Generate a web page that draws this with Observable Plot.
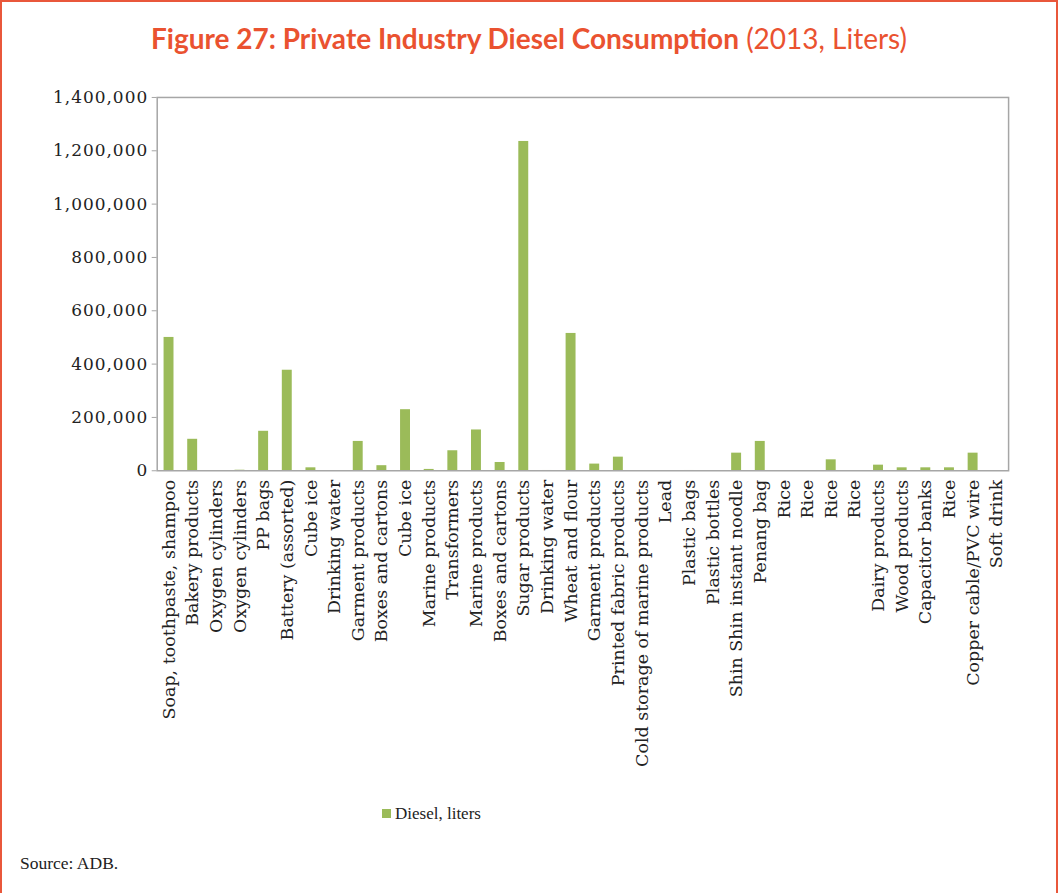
<!DOCTYPE html>
<html>
<head>
<meta charset="utf-8">
<script src="https://cdn.jsdelivr.net/npm/d3@7"></script>
<script src="https://cdn.jsdelivr.net/npm/@observablehq/plot@0.6"></script>
<style>
  html, body { margin: 0; padding: 0; background: #fff; }
  #page { position: relative; width: 1058px; height: 900px; box-sizing: border-box; border: 2px solid #e9573b; overflow: hidden; }
  #title { position: absolute; left: 0; top: 19px; width: 100%; text-align: center; font-family: Lato, sans-serif; font-size: 28px; color: #ea5230; white-space: nowrap; }
  #title b { font-weight: 700; }
  #title span { font-weight: 400; }
  #chart { position: absolute; left: -2px; top: 76px; }
  #legend { position: absolute; left: 380px; top: 802px; font-family: "Liberation Serif", serif; font-size: 17px; color: #222; }
  #legend i { display: inline-block; width: 9px; height: 9px; background: #9bbb59; margin-right: 4px; vertical-align: 1px; }
  #source { position: absolute; left: 18px; top: 851px; font-family: "Liberation Serif", serif; font-size: 17.5px; color: #222; }
  #chart svg g[aria-label="y-axis tick label"] text { letter-spacing: 1px; }
</style>
</head>
<body>
<div id="page">
  <div id="title"><b>Figure 27: Private Industry Diesel Consumption</b> <span>(2013, Liters)</span></div>
  <div id="chart"></div>
  <div id="legend"><i></i>Diesel, liters</div>
  <div id="source">Source: ADB.</div>
</div>
<script>
const categories = [
  "Soap, toothpaste, shampoo", "Bakery products", "Oxygen cylinders", "Oxygen cylinders",
  "PP bags", "Battery (assorted)", "Cube ice", "Drinking water", "Garment products",
  "Boxes and cartons", "Cube ice", "Marine products", "Transformers", "Marine products",
  "Boxes and cartons", "Sugar products", "Drinking water", "Wheat and flour", "Garment products",
  "Printed fabric products", "Cold storage of marine products", "Lead", "Plastic bags",
  "Plastic bottles", "Shin Shin instant noodle", "Penang bag", "Rice", "Rice", "Rice", "Rice",
  "Dairy products", "Wood products", "Capacitor banks", "Rice", "Copper cable/PVC wire", "Soft drink"
];
const dieselLiters = [
  500000, 118000, 0, 2000,
  148000, 377000, 11000, 0, 110000,
  19000, 229000, 5000, 75000, 153000,
  31000, 1235000, 1000, 515000, 25000,
  51000, 0, 0, 1000,
  0, 66000, 110000, 0, 0, 41000, 0,
  21000, 11000, 11000, 11000, 66000, 0
];
const yTicks = [0, 200000, 400000, 600000, 800000, 1000000, 1200000, 1400000];

const idx = d3.range(categories.length);
const chart = Plot.plot({
  width: 1058,
  height: 700,
  marginTop: 19,
  marginLeft: 157,
  marginRight: 48,
  marginBottom: 307,
  style: { fontFamily: "'DejaVu Serif', serif", fontSize: "17px", color: "#222", background: "transparent" },
  x: { type: "band", domain: idx, paddingInner: 0.58, paddingOuter: 0.29, round: false, axis: null },
  y: { domain: [0, 1400000], axis: null },
  marks: [
    Plot.barY(idx, { x: d => d, y: d => dieselLiters[d], fill: "#9bbb59" }),
    Plot.frame({ stroke: "#a6a6a6", strokeWidth: 1.5 }),
    Plot.axisY({ ticks: yTicks, tickFormat: d3.format(","), tickSize: 5, tickPadding: 4, stroke: "#a6a6a6", fill: "#222", fontSize: 17 }),
    Plot.axisX({ tickRotate: -90, tickSize: 0, tickPadding: 9, tickFormat: i => categories[i], fill: "#222", fontSize: 17.5 })
  ]
});
document.getElementById("chart").appendChild(chart);
</script>
</body>
</html>
